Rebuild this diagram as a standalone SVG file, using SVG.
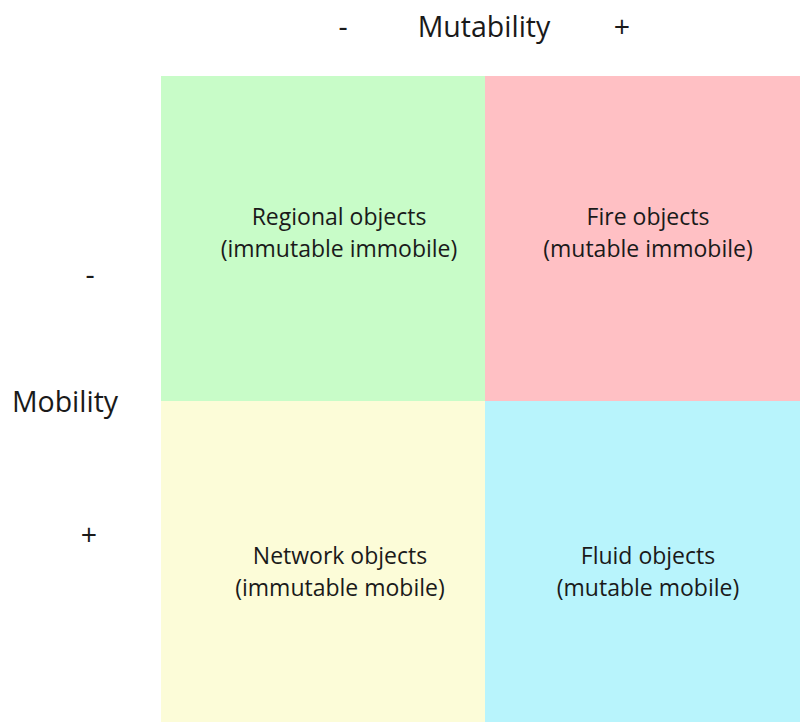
<svg xmlns="http://www.w3.org/2000/svg" width="800" height="722" viewBox="0 0 800 722">
  <style>
    text { font-family: "Open Sans", "Noto Sans", "Liberation Sans", sans-serif; fill: #1a1a1a; text-anchor: middle; }
    .axis { font-size: 28.5px; }
    .cell { font-size: 23px; }
  </style>
  <rect x="0" y="0" width="800" height="722" fill="#ffffff"/>
  <!-- axis labels -->
  <g id="axis-mutability">
    <text class="axis" x="343" y="37">-</text>
    <text class="axis" x="484" y="37">Mutability</text>
    <text class="axis" x="622" y="37">+</text>
  </g>
  <g id="axis-mobility">
    <text class="axis" x="90" y="285">-</text>
    <text class="axis" x="65" y="412">Mobility</text>
    <text class="axis" x="89" y="545">+</text>
  </g>
  <!-- quadrants -->
  <g id="regional">
    <rect x="161" y="76" width="324" height="325" fill="#c8fcc8"/>
    <text class="cell" x="339" y="225">Regional objects</text>
    <text class="cell" x="339" y="257">(immutable immobile)</text>
  </g>
  <g id="fire">
    <rect x="485" y="76" width="315" height="325" fill="#ffc0c4"/>
    <text class="cell" x="648" y="225">Fire objects</text>
    <text class="cell" x="648" y="257">(mutable immobile)</text>
  </g>
  <g id="network">
    <rect x="161" y="401" width="324" height="321" fill="#fcfcd8"/>
    <text class="cell" x="340" y="564">Network objects</text>
    <text class="cell" x="340" y="596">(immutable mobile)</text>
  </g>
  <g id="fluid">
    <rect x="485" y="401" width="315" height="321" fill="#b8f4fc"/>
    <text class="cell" x="648" y="564">Fluid objects</text>
    <text class="cell" x="648" y="596">(mutable mobile)</text>
  </g>
  <g id="connectors"></g>
</svg>
